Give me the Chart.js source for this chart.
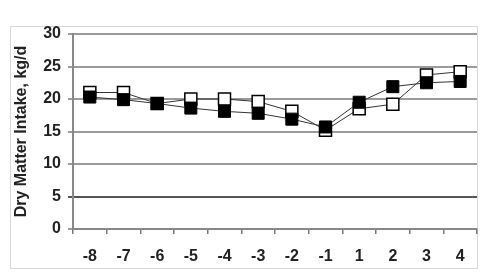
<!DOCTYPE html>
<html>
<head>
<meta charset="utf-8">
<script src="https://cdn.jsdelivr.net/npm/chart.js@4"></script>
<style>
  html, body { margin: 0; padding: 0; background: #fff; }
  #wrap { position: relative; width: 483px; height: 279px; }
  #frame { position: absolute; left: 10px; top: 26px; width: 466px; height: 241px; border: 1px solid #d8d8d8; }
  canvas { position: absolute; left: 0; top: 0; }
</style>
</head>
<body>
<div id="wrap">
  <div id="frame"></div>
  <canvas id="myChart" width="483" height="279"></canvas>
</div>
<script>
const weeks = ['-8', '-7', '-6', '-5', '-4', '-3', '-2', '-1', '1', '2', '3', '4']
const filled_values = [20.3, 19.9, 19.3, 18.6, 18.1, 17.8, 16.9, 15.7, 19.5, 21.9, 22.5, 22.7]
const open_values = [21.0, 21.0, 19.3, 20.0, 20.0, 19.6, 18.1, 15.2, 18.5, 19.2, 23.7, 24.2]
const y_ticks = [0, 5, 10, 15, 20, 25, 30]

const chart_1 = document.getElementById('myChart')
let c = new Chart(chart_1, {
    type: 'line',
    data: {
        labels: weeks,
        datasets: [{
            label: 'filled',
            data: filled_values,
            borderColor: '#333',
            borderWidth: 1,
            pointStyle: 'rect',
            pointRadius: 8.5,
            pointBackgroundColor: '#000',
            pointBorderColor: '#000',
            pointBorderWidth: 1,
            tension: 0
        }, {
            label: 'open',
            data: open_values,
            borderColor: '#333',
            borderWidth: 1,
            pointStyle: 'rect',
            pointRadius: 8.5,
            pointBackgroundColor: '#fff',
            pointBorderColor: '#000',
            pointBorderWidth: 1.5,
            tension: 0
        }]
    },
    options: {
        responsive: false,
        animation: false,
        layout: {
            autoPadding: false,
            padding: { left: 12, top: 34, right: 6, bottom: 10 }
        },
        scales: {
            x: {
                offset: true,
                grid: {
                    offset: true,
                    drawOnChartArea: false,
                    drawTicks: true,
                    tickLength: 5,
                    color: '#777',
                    lineWidth: 1.5
                },
                border: { color: '#888', width: 2 },
                ticks: {
                    color: '#222',
                    padding: 13,
                    font: { family: 'Liberation Sans', size: 16, weight: 'bold' }
                },
                afterFit: function (scale) {
                    scale.height = 40
                    scale.paddingLeft = 0
                    scale.paddingRight = 0
                }
            },
            y: {
                min: 0,
                max: 30,
                afterBuildTicks: function (scale) {
                    scale.ticks = y_ticks.map(v => ({ value: v }))
                },
                grid: {
                    color: function (ctx) {
                        if (ctx.tick && ctx.tick.value == 5) return '#555'
                        return '#9a9a9a'
                    },
                    lineWidth: 2,
                    tickLength: 5
                },
                border: { color: '#888', width: 2 },
                ticks: {
                    color: '#222',
                    padding: 7,
                    font: { family: 'Liberation Sans', size: 16, weight: 'bold' }
                },
                title: {
                    display: true,
                    text: 'Dry Matter Intake, kg/d',
                    color: '#222',
                    padding: { top: 0, bottom: 2 },
                    font: { family: 'Liberation Sans', size: 16, weight: 'bold' }
                },
                afterFit: function (scale) { scale.width = 61 }
            }
        },
        plugins: {
            legend: { display: false },
            tooltip: { enabled: false }
        }
    }
})
</script>
</body>
</html>
